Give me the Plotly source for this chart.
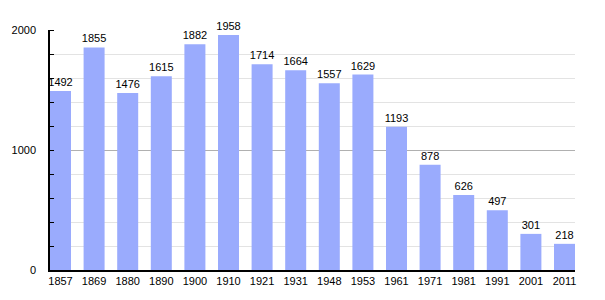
import plotly.graph_objects as go

years = ["1857", "1869", "1880", "1890", "1900", "1910", "1921", "1931", "1948",
         "1953", "1961", "1971", "1981", "1991", "2001", "2011"]
population = [1492, 1855, 1476, 1615, 1882, 1958, 1714, 1664, 1557, 1629, 1193,
              878, 626, 497, 301, 218]

fig = go.Figure(go.Bar(
    x=list(range(len(years))), y=population,
    text=[str(v) for v in population], textposition="outside",
    textfont=dict(size=11, color="#000", family="Liberation Sans, Arial, sans-serif"),
    marker=dict(color="#9aabfd", line=dict(width=0)),
    width=0.625, cliponaxis=False, constraintext="none",
))

fig.update_layout(
    width=605, height=300,
    margin=dict(l=50, r=30, t=30, b=30),
    paper_bgcolor="white", plot_bgcolor="white",
    showlegend=False,
    uniformtext=dict(minsize=11, mode="show"),
    font=dict(family="Liberation Sans, Arial, sans-serif", size=11, color="#000"),
    xaxis=dict(
        range=[-0.3125, 15.3125], tickmode="array",
        tickvals=list(range(len(years))), ticktext=years,
        showline=True, linecolor="#000", linewidth=1.5,
        showgrid=False, ticks="", zeroline=False,
    ),
    yaxis=dict(
        range=[0, 2000], tickvals=[0, 1000, 2000],
        showline=True, linecolor="#000", linewidth=1.5,
        gridcolor="#b0b0b0", gridwidth=1, zeroline=False,
        ticks="", ticklabelstandoff=10,
        minor=dict(dtick=200, showgrid=True, gridcolor="#e3e3e3",
                   ticks="inside", ticklen=4, tickcolor="#000"),
    ),
)

fig.write_html("out.html")
